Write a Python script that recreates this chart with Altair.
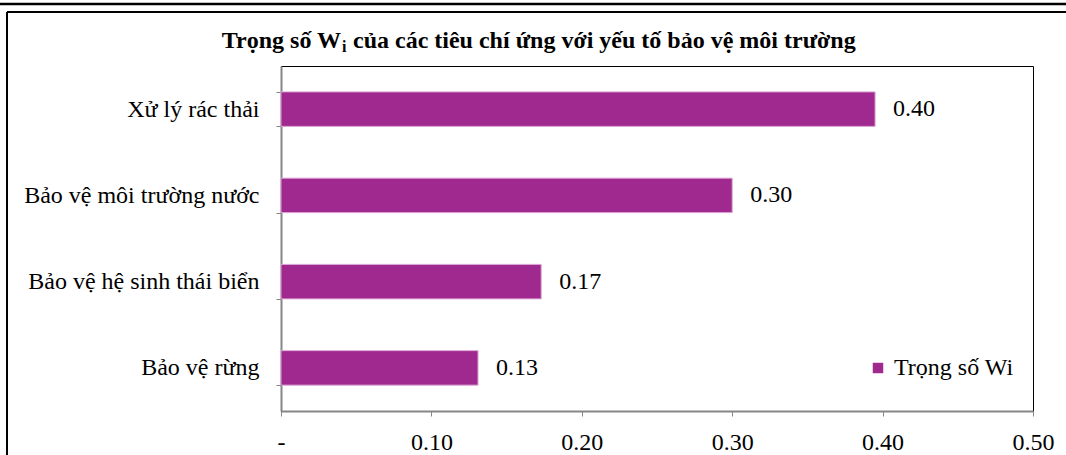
import altair as alt
import pandas as pd

categories = ["Xử lý rác thải", "Bảo vệ môi trường nước", "Bảo vệ hệ sinh thái biển", "Bảo vệ rừng"]
weights = [0.395, 0.300, 0.173, 0.131]
series_name = "Trọng số Wi"
x_ticks = [0, 0.1, 0.2, 0.3, 0.4, 0.5]
title_main = "Trọng số W"
title_sub = "i"
title_rest = "của các tiêu chí ứng với yếu tố bảo vệ môi trường"

df = pd.DataFrame({"cat": categories, "w": weights, "s": [series_name] * len(categories)})

FONT = "Liberation Serif"
BAR = "#A0298F"
AXIS = "#868686"

base = alt.Chart(df)

y_enc = alt.Y(
    "cat:N",
    sort=categories,
    scale=alt.Scale(paddingInner=0.6, paddingOuter=0.3),
    axis=alt.Axis(
        title=None, labelFont=FONT, labelFontSize=24, labelColor="#000",
        labelPadding=17, tickBand="extent", ticks=True, tickSize=5,
        tickColor=AXIS, domainColor=AXIS, domainWidth=2, labelLimit=400,
    ),
)
x_enc = alt.X(
    "w:Q",
    scale=alt.Scale(domain=[0, 0.5], nice=False),
    axis=alt.Axis(
        title=None, values=x_ticks, grid=False,
        labelExpr="datum.value == 0 ? '-' : format(datum.value, '.2f')",
        labelFont=FONT, labelFontSize=24, labelColor="#000", labelPadding=14,
        tickSize=5, tickColor=AXIS, domainColor=AXIS, domainWidth=2,
        labelFlush=False,
    ),
)

bars = base.mark_bar(stroke="#DDA8D5", strokeWidth=1).encode(
    x=x_enc,
    y=y_enc,
    color=alt.Color(
        "s:N",
        scale=alt.Scale(range=[BAR]),
        legend=alt.Legend(
            title=None, orient="none", legendX=585, legendY=290, padding=0,
            symbolType="square", symbolSize=110, symbolStrokeWidth=0,
            labelFont=FONT, labelFontSize=24, labelColor="#000", labelOffset=4,
        ),
    ),
)

values = base.mark_text(align="left", baseline="middle", dx=18, font=FONT, fontSize=24, color="#000").encode(
    x="w:Q",
    y=alt.Y("cat:N", sort=categories),
    text=alt.Text("w:Q", format=".2f"),
)

one = alt.Chart(pd.DataFrame({"k": [0]}))
t1 = one.mark_text(text=title_main, align="right", baseline="alphabetic", font=FONT, fontSize=24, fontWeight="bold", color="#000").encode(
    x=alt.value(60), y=alt.value(-18.5))
t2 = one.mark_text(text=title_sub, align="left", baseline="alphabetic", font=FONT, fontSize=16, fontWeight="bold", color="#000").encode(
    x=alt.value(61), y=alt.value(-14.5))
t3 = one.mark_text(text=title_rest, align="left", baseline="alphabetic", font=FONT, fontSize=24, fontWeight="bold", color="#000").encode(
    x=alt.value(72), y=alt.value(-18.5))

frame_left = one.mark_rule(color="#000", strokeWidth=2).encode(x=alt.value(-274), y=alt.value(-54), y2=alt.value(389))
frame_top = one.mark_rule(color="#000", strokeWidth=2).encode(x=alt.value(-274), x2=alt.value(785), y=alt.value(-54))
page_line = one.mark_rule(color="#000", strokeWidth=2.5).encode(x=alt.value(-281), x2=alt.value(785), y=alt.value(-62))

chart = alt.layer(bars, values, t1, t2, t3, frame_left, frame_top, page_line).properties(
    width=752,
    height=345,
    padding={"left": 281, "top": 66, "right": 33, "bottom": 44},
    autosize=alt.AutoSizeParams(type="none"),
    background="#ffffff",
).configure_view(stroke="#000", strokeWidth=1)

chart.save("out.html", embed_options={"renderer": "svg", "actions": False})
